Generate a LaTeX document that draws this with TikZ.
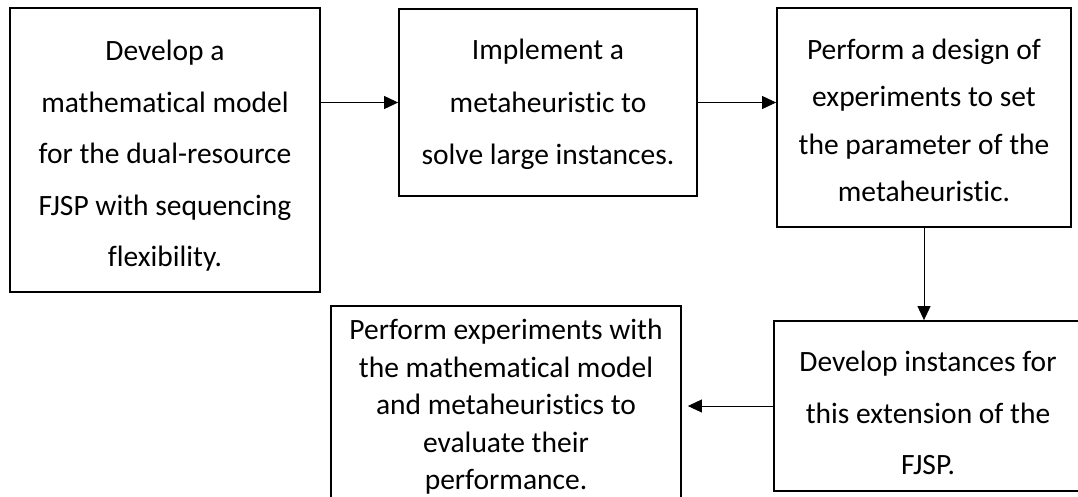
\documentclass[tikz,border=0pt]{standalone}
\usepackage{fontspec}
\setmainfont{Carlito}[RawFeature=-liga]
\usetikzlibrary{arrows.meta}
\tikzset{
  stepbox/.style={draw=black, line width=1.8pt, rectangle, inner sep=0pt},
  steptext/.style={inner sep=0pt, align=center, font=\fontsize{29.5}{51.5}\selectfont},
  flow/.style={draw=black, line width=0.9pt, -{Triangle[length=14pt,width=13pt]}}
}
\begin{document}
\begin{tikzpicture}[x=1pt,y=-1pt]
\useasboundingbox (0,0) rectangle (1078,496);
\node[stepbox, minimum width=310pt, minimum height=284pt] (b1) at (165,150) {};
\node[steptext] (t1) at ([yshift=-6pt]b1.center)
  {Develop a\\mathematical model\\for the dual-resource\\FJSP with sequencing\\flexibility.};
\node[stepbox, minimum width=298pt, minimum height=187pt] (b2) at (548,102.5) {};
\node[steptext, font=\fontsize{29.5}{52.5}\selectfont] (t2) at ([yshift=-2pt]b2.center)
  {Implement a\\metaheuristic to\\solve large instances.};
\node[stepbox, minimum width=294pt, minimum height=219pt] (b3) at (924,117.5) {};
\node[steptext, font=\fontsize{29.5}{47.5}\selectfont] (t3) at ([yshift=-3pt]b3.center)
  {Perform a design of\\experiments to set\\the parameter of the\\metaheuristic.};
\node[stepbox, minimum width=308pt, minimum height=170pt] (b4) at (928,406) {};
\node[steptext, font=\fontsize{29.5}{51.5}\selectfont] (t4) at ([yshift=-7pt]b4.center)
  {Develop instances for\\this extension of the\\FJSP.};
\node[stepbox, minimum width=350pt, minimum height=192pt] (b5) at (506,402) {};
\node[steptext, font=\fontsize{29.5}{37.5}\selectfont] (t5) at ([yshift=-5pt]b5.center)
  {Perform experiments with\\the mathematical model\\and metaheuristics to\\evaluate their\\performance.};
\draw[flow] (b1.east |- b2.west) -- (b2.west);
\draw[flow] (b2.east) -- (b2.east -| b3.west);
\draw[flow] (b3.south) -- (b3.south |- b4.north);
\draw[flow, shorten >=6pt] (b4.west) -- (b4.west -| b5.east);
\end{tikzpicture}
\end{document}
